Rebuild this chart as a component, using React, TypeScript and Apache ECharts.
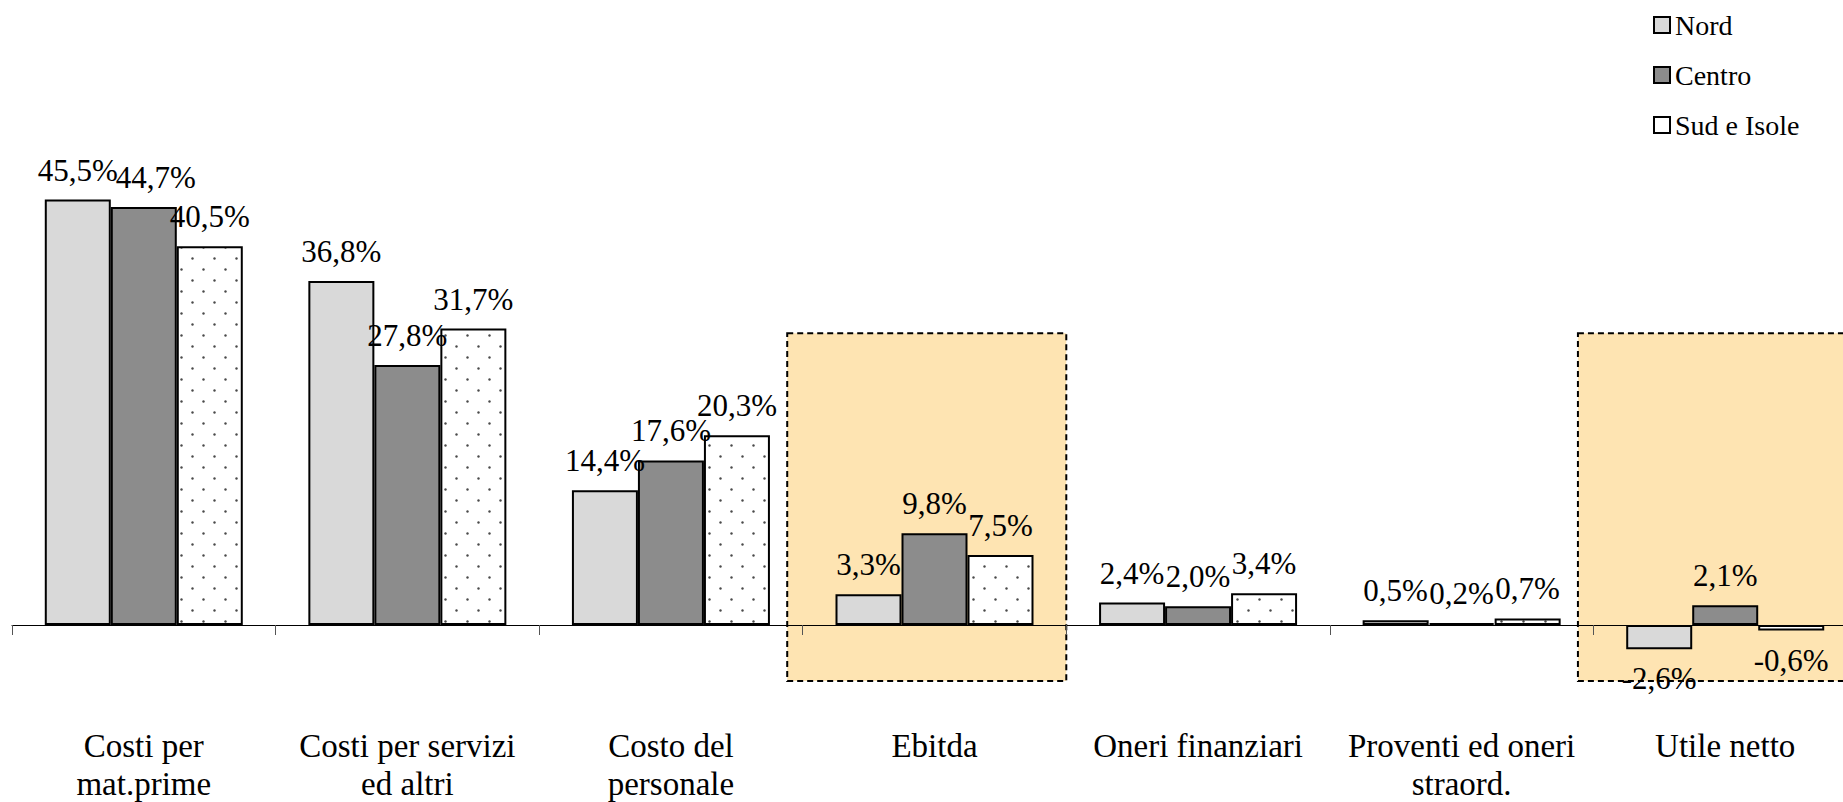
import React, { useEffect, useRef } from 'react';
import * as echarts from 'echarts';

const categories = [
  'Costi per\nmat.prime',
  'Costi per servizi\ned altri',
  'Costo del\npersonale',
  'Ebitda',
  'Oneri finanziari',
  'Proventi ed oneri\nstraord.',
  'Utile netto',
];
const seriesNames = ['Nord', 'Centro', 'Sud e Isole'];
const nord = [45.5, 36.8, 14.4, 3.3, 2.4, 0.5, -2.6];
const centro = [44.7, 27.8, 17.6, 9.8, 2.0, 0.2, 2.1];
const sud = [40.5, 31.7, 20.3, 7.5, 3.4, 0.7, -0.6];
const highlightedIdx = [3, 6];
const highlightTop = 31.2;
const highlightBottom = -6.0;

const FONT = '"Liberation Serif", "Times New Roman", serif';
const LABEL_SIZE = 31;
const LABEL_DIST = 14;
const BAR_W = 66;

function makeDots(): HTMLCanvasElement {
  const c = document.createElement('canvas');
  c.width = 22;
  c.height = 22;
  const ctx = c.getContext('2d')!;
  ctx.fillStyle = '#ffffff';
  ctx.fillRect(0, 0, 22, 22);
  ctx.fillStyle = '#4a4a4a';
  ctx.beginPath();
  ctx.arc(5.5, 5.5, 1.2, 0, Math.PI * 2);
  ctx.fill();
  ctx.beginPath();
  ctx.arc(16.5, 16.5, 1.2, 0, Math.PI * 2);
  ctx.fill();
  return c;
}

const fmtVal = (v: number) => v.toFixed(1).replace('.', ',') + '%';
const fmt = (p: any) => {
  const v = typeof p.value === 'number' ? p.value : p.data?.value;
  return fmtVal(Number(v));
};

export default function App() {
  const ref = useRef<HTMLDivElement>(null);
  useEffect(() => {
    if (!ref.current) return;
    const chart = echarts.init(ref.current, undefined, { renderer: 'svg' });
    const dots = makeDots();
    const fills = ['#d9d9d9', '#8c8c8c', { image: dots, repeat: 'repeat' }];
    const legendFills = ['#d9d9d9', '#8c8c8c', '#ffffff'];
    const allData = [nord, centro, sud];

    const buildSeries = (offsets: number[][]) =>
      seriesNames.map((name, i) => ({
        name,
        type: 'bar',
        barWidth: BAR_W,
        barGap: '0%',
        itemStyle: { color: fills[i] as any, borderColor: '#000', borderWidth: 2 },
        label: {
          show: true,
          position: 'top',
          distance: LABEL_DIST,
          fontFamily: FONT,
          fontSize: LABEL_SIZE,
          color: '#000',
          formatter: fmt,
        },
        data: allData[i].map((v, j) => {
          const lbl: any = {};
          if (v < 0) lbl.position = 'bottom';
          if (offsets[i][j]) lbl.offset = [offsets[i][j], 0];
          return Object.keys(lbl).length ? { value: v, label: lbl } : v;
        }),
      }));

    const zeroOffsets = allData.map((d) => d.map(() => 0));
    chart.setOption({
      animation: false,
      backgroundColor: '#ffffff',
      legend: {
        orient: 'vertical',
        left: 1653,
        top: 10,
        padding: 0,
        itemWidth: 16,
        itemHeight: 16,
        itemGap: 20,
        icon: 'rect',
        data: seriesNames.map((n, i) => ({ name: n, itemStyle: { color: legendFills[i], borderColor: '#000', borderWidth: 2 } })),
        textStyle: { fontFamily: FONT, fontSize: 28, color: '#000', lineHeight: 30 },
      },
      grid: { left: 12, width: 1845, top: 157.5, height: 561, outerBoundsMode: 'none', containLabel: false },
      xAxis: {
        type: 'category',
        data: categories,
        axisLine: { onZero: true, lineStyle: { color: '#000', width: 1 } },
        axisTick: { show: true, length: 10, lineStyle: { color: '#555', width: 1 } },
        axisLabel: {
          interval: 0,
          margin: 8.5,
          fontFamily: FONT,
          fontSize: 33,
          lineHeight: 38,
          color: '#000',
        },
      },
      yAxis: { type: 'value', min: -10, max: 50, show: false, splitLine: { show: false } },
      series: buildSeries(zeroOffsets),
    });

    // nudge value labels that would collide with the neighbouring label on the left
    const measure = document.createElement('canvas').getContext('2d')!;
    measure.font = `${LABEL_SIZE}px ${FONT}`;
    const h = LABEL_SIZE;
    const offsets = allData.map((d) => d.map(() => 0));
    categories.forEach((_, j) => {
      const xc = chart.convertToPixel({ xAxisIndex: 0 }, j) as number;
      const rects: { x: number; y: number; w: number }[] = [];
      allData.forEach((d, i) => {
        const v = d[j];
        const yv = chart.convertToPixel({ yAxisIndex: 0 }, v) as number;
        const w = measure.measureText(fmtVal(v)).width;
        const cx = xc + (i - 1) * BAR_W;
        const y = v >= 0 ? yv - LABEL_DIST - h : yv + LABEL_DIST;
        let x = cx - w / 2;
        rects.forEach((p) => {
          const vOverlap = Math.abs(p.y - y) < h - 6;
          if (vOverlap && x < p.x + p.w - 2) x = p.x + p.w - 2;
        });
        offsets[i][j] = Math.round(x - (cx - w / 2));
        rects.push({ x, y, w });
      });
    });
    chart.setOption({ series: buildSeries(offsets) });

    const x0 = chart.convertToPixel({ xAxisIndex: 0 }, 0) as number;
    const x1 = chart.convertToPixel({ xAxisIndex: 0 }, 1) as number;
    const band = x1 - x0;
    const yTop = chart.convertToPixel({ yAxisIndex: 0 }, highlightTop) as number;
    const yBot = chart.convertToPixel({ yAxisIndex: 0 }, highlightBottom) as number;
    const graphic = highlightedIdx.map((idx) => {
      const xc = chart.convertToPixel({ xAxisIndex: 0 }, idx) as number;
      const left = xc - band / 2 - 15.5;
      const right = xc + band / 2;
      return {
        type: 'rect',
        z: -10,
        silent: true,
        shape: { x: left, y: yTop, width: right - left, height: yBot - yTop },
        style: { fill: '#fee4b2', stroke: '#000', lineWidth: 2, lineDash: [6, 4] },
      };
    });
    chart.setOption({ graphic });

    return () => chart.dispose();
  }, []);
  return (
    <div
      ref={ref}
      style={{ position: 'fixed', left: 0, top: 0, width: 1843, height: 802, background: '#fff' }}
    />
  );
}
